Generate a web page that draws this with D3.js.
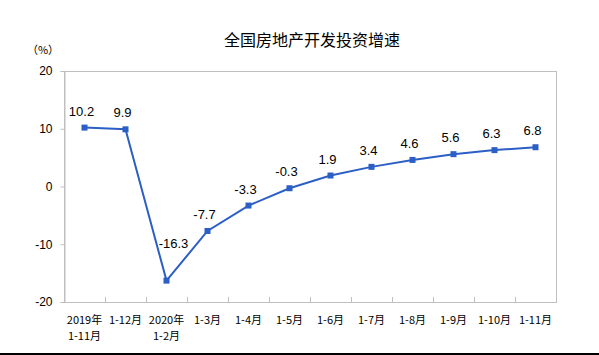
<!DOCTYPE html>
<html>
<head>
<meta charset="utf-8">
<script src="https://cdn.jsdelivr.net/npm/d3@7"></script>
<style>
  html, body { margin: 0; padding: 0; background: #fff; }
  svg { display: block; }
</style>
</head>
<body>
<svg id="chart" width="599" height="355"></svg>
<script>
const title = "全国房地产开发投资增速";
const unitLabel = "（%）";
const categories = [
  ["2019年", "1-11月"], ["1-12月"], ["2020年", "1-2月"], ["1-3月"], ["1-4月"], ["1-5月"],
  ["1-6月"], ["1-7月"], ["1-8月"], ["1-9月"], ["1-10月"], ["1-11月"]
];
const values = [10.2, 9.9, -16.3, -7.7, -3.3, -0.3, 1.9, 3.4, 4.6, 5.6, 6.3, 6.8];
const yTicks = [-20, -10, 0, 10, 20];

const W = 599, H = 355;
const margin = { left: 64, top: 71, right: 43, bottom: 53 };
const svg = d3.select("#chart");
const innerW = W - margin.left - margin.right;
const innerH = H - margin.top - margin.bottom;

const x = d3.scaleBand().domain(d3.range(categories.length)).range([margin.left, margin.left + innerW]).padding(0);
const y = d3.scaleLinear().domain([-20, 20]).range([margin.top + innerH, margin.top]);

const blue = "#2c5fc6";
const grey = "#bfbfbf";

// Title
svg.append("text")
  .attr("x", 312).attr("y", 46)
  .attr("text-anchor", "middle")
  .style("font-family", "'Noto Sans CJK SC', sans-serif")
  .style("font-size", "16px")
  .attr("fill", "#000")
  .text(title);

// Unit
svg.append("text")
  .attr("x", 43).attr("y", 54)
  .attr("text-anchor", "middle")
  .style("font-family", "'Noto Sans CJK SC', sans-serif")
  .style("font-size", "11px")
  .attr("fill", "#000")
  .text(unitLabel);

// Frame
svg.append("rect")
  .attr("x", margin.left + 0.5).attr("y", y(20) + 0.5)
  .attr("width", innerW).attr("height", y(-20) - y(20))
  .attr("fill", "none").attr("stroke", grey).attr("stroke-width", 1);

// Y axis
const yAxis = d3.axisLeft(y).tickValues(yTicks).tickFormat(d => String(d)).tickSize(4).tickPadding(8);
const gy = svg.append("g").attr("transform", `translate(${margin.left + 0.5},0)`).call(yAxis);
gy.select(".domain").attr("stroke", grey);
gy.selectAll(".tick line").attr("stroke", grey);
gy.selectAll(".tick text")
  .style("font-family", "'Liberation Sans', Arial, sans-serif")
  .style("font-size", "12px")
  .attr("fill", "#000");

// X axis (ticks between categories, pointing inward)
const boundaries = d3.range(1, categories.length).map(i => x(i));
svg.append("g").selectAll("line").data(boundaries).join("line")
  .attr("x1", d => Math.round(d) + 0.5).attr("x2", d => Math.round(d) + 0.5)
  .attr("y1", y(-20)).attr("y2", y(-20) - 5)
  .attr("stroke", grey);

const xl = svg.append("g");
categories.forEach((lines, i) => {
  const t = xl.append("text")
    .attr("x", x(i) + x.bandwidth() / 2)
    .attr("y", 324)
    .attr("text-anchor", "middle")
    .style("font-family", "'Noto Sans CJK SC', sans-serif")
    .style("font-size", "11px")
    .attr("fill", "#000");
  lines.forEach((ln, j) => {
    t.append("tspan").attr("x", x(i) + x.bandwidth() / 2).attr("dy", j === 0 ? 0 : 16).text(ln);
  });
});

// Line
const line = d3.line()
  .x((d, i) => x(i) + x.bandwidth() / 2)
  .y(d => y(d));
svg.append("path")
  .datum(values)
  .attr("d", line)
  .attr("fill", "none")
  .attr("stroke", blue)
  .attr("stroke-width", 2);

// Markers
const ms = 6;
svg.append("g").selectAll("rect").data(values).join("rect")
  .attr("x", (d, i) => x(i) + x.bandwidth() / 2 - ms / 2)
  .attr("y", d => y(d) - ms / 2)
  .attr("width", ms).attr("height", ms)
  .attr("fill", blue);

// Data labels
const minV = d3.min(values);
svg.append("g").selectAll("text").data(values).join("text")
  .attr("x", (d, i) => x(i) + x.bandwidth() / 2 + (d === minV ? 7 : -3))
  .attr("y", d => y(d) - (d === minV ? 33 : 12))
  .attr("text-anchor", "middle")
  .style("font-family", "'Liberation Sans', Arial, sans-serif")
  .style("font-size", "13px")
  .attr("fill", "#000")
  .text(d => d.toFixed(1));

// Bottom rule
svg.append("rect")
  .attr("x", 0).attr("y", 353).attr("width", W).attr("height", 2)
  .attr("fill", "#000");
</script>
</body>
</html>
